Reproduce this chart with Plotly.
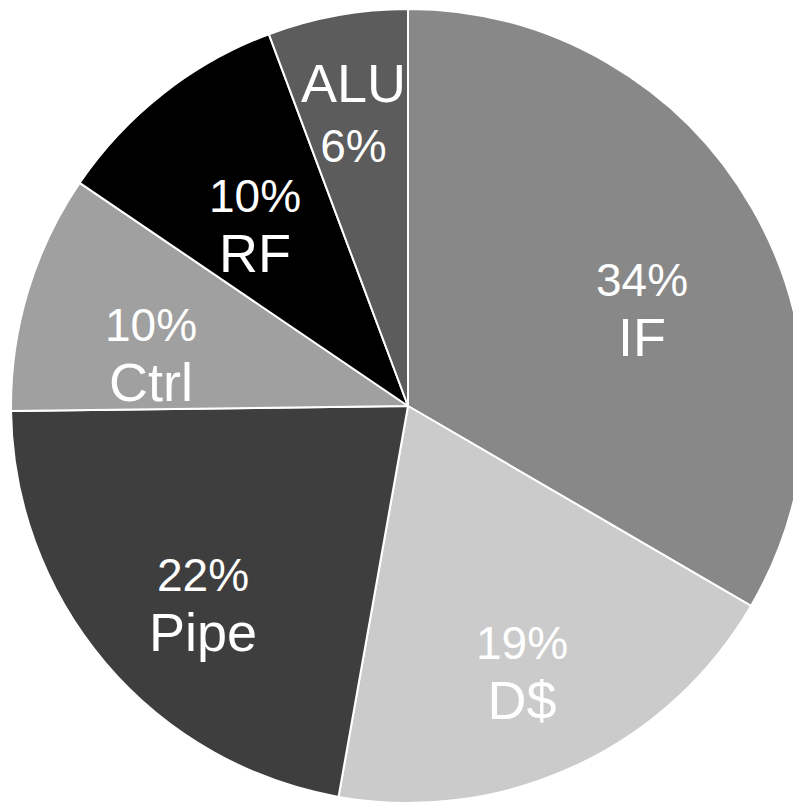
import math
import plotly.graph_objects as go

labels = ["IF", "D$", "Pipe", "Ctrl", "RF", "ALU"]
values = [33.4, 19.4, 22.0, 9.7, 9.8, 5.7]
pct_labels = ["34%", "19%", "22%", "10%", "10%", "6%"]
label_first = [False, False, False, False, False, True]
colors = ["#888888", "#cbcbcb", "#3e3e3e", "#a0a0a0", "#000000", "#5c5c5c"]

# label placement (style): radius fraction and angular shift from slice mid-angle
label_radius = [0.637, 0.733, 0.721, 0.659, 0.593, 0.753]
label_shift_deg = [7.6, 1.8, -4.0, -5.7, -2.3, -0.3]

W, H = 800, 811
CX, CY, R = 400, 398, 397  # pie centre/radius in figure pixels

fig = go.Figure(go.Pie(
    labels=labels,
    values=values,
    textinfo="none",
    sort=False,
    direction="clockwise",
    rotation=0,
    marker=dict(colors=colors, line=dict(color="white", width=2)),
    hoverinfo="label+percent",
    domain=dict(x=[0, 1], y=[(H - CY - R) / H, (H - CY + R) / H]),
))

total = sum(values)
cum = 0.0
annotations = []
for lab, val, pct, first, rf, sh in zip(labels, values, pct_labels, label_first,
                                         label_radius, label_shift_deg):
    mid = (cum + val / 2) / total * 360 + sh
    cum += val
    th = math.radians(mid)
    px = CX + rf * R * math.sin(th)
    py = CY - rf * R * math.cos(th)
    name = f"<span style='font-size:54px'>{lab}</span>"
    txt = f"{name}<br>{pct}" if first else f"{pct}<br>{name}"
    annotations.append(dict(
        x=px / W, y=1 - py / H, xref="paper", yref="paper",
        text=txt, showarrow=False, xanchor="center", yanchor="middle",
        align="center",
        font=dict(family="Liberation Sans, Arial, sans-serif", size=46, color="white"),
    ))

fig.update_layout(
    width=W,
    height=H,
    margin=dict(l=0, r=0, t=0, b=0),
    showlegend=False,
    paper_bgcolor="white",
    annotations=annotations,
)

fig.write_html("out.html")
